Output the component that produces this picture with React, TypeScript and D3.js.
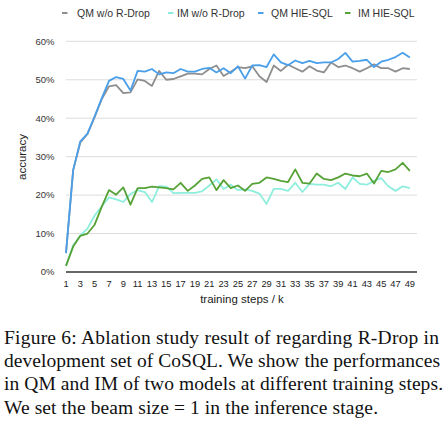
import React, { useEffect, useRef } from 'react';
import * as d3 from 'd3';

// training steps 1..49 (k)
const steps: number[] = d3.range(1, 50);
const xTickLabels: number[] = d3.range(1, 50, 2);
const yTicks: number[] = [0, 0.1, 0.2, 0.3, 0.4, 0.5, 0.6];

const seriesNames = ['QM w/o R-Drop', 'IM w/o R-Drop', 'QM HIE-SQL', 'IM HIE-SQL'];
const seriesColors = ['#8e8e8e', '#8eeedd', '#4a9fea', '#56a236'];

const qmWoRDrop = [
  4.9, 26.5, 33.7, 35.9, 40.3, 45.0, 48.3, 48.6, 46.5, 46.7,
  50.1, 49.7, 48.4, 52.3, 50.0, 50.2, 50.9, 51.6, 51.6, 51.4,
  52.8, 53.7, 51.0, 52.1, 53.3, 53.0, 53.5, 50.9, 49.4, 53.7,
  52.3, 53.9, 53.0, 52.1, 53.5, 52.4, 51.9, 54.5, 53.3, 53.7,
  53.0, 52.1, 53.0, 54.0, 53.0, 53.0, 52.1, 53.0, 52.8,
];
const imWoRDrop = [
  1.6, 6.9, 9.5, 11.3, 14.7, 17.1, 19.4, 18.9, 18.2, 20.3,
  21.3, 20.8, 18.2, 22.3, 22.2, 20.5, 20.6, 20.6, 20.6, 21.0,
  22.5, 24.1, 21.6, 22.7, 21.3, 21.5, 21.1, 20.4, 17.7, 21.6,
  21.6, 21.1, 23.2, 20.8, 22.9, 22.7, 22.7, 22.3, 23.2, 21.6,
  24.6, 22.9, 22.7, 23.7, 24.4, 22.3, 21.1, 22.3, 21.8,
];
const qmHieSql = [
  4.9, 26.5, 34.0, 36.0, 40.5, 45.2, 49.7, 50.7, 50.2, 47.2,
  52.3, 52.1, 52.8, 51.4, 51.9, 51.7, 52.8, 52.1, 52.1, 52.8,
  53.1, 51.9, 53.0, 51.7, 53.5, 50.3, 53.7, 53.8, 53.3, 56.6,
  54.5, 53.8, 55.0, 54.3, 54.9, 54.3, 54.5, 54.5, 55.4, 57.0,
  54.7, 54.9, 55.2, 53.3, 54.7, 55.2, 55.9, 57.0, 55.8,
];
const imHieSql = [
  1.6, 6.6, 9.4, 10.0, 12.3, 17.0, 21.3, 20.1, 22.0, 17.5,
  21.8, 21.8, 22.2, 22.0, 21.8, 21.5, 23.2, 21.1, 22.5, 24.2,
  24.6, 21.3, 23.9, 21.8, 22.5, 21.1, 22.9, 23.2, 24.6, 24.2,
  23.7, 23.4, 26.7, 23.2, 23.0, 25.6, 24.2, 23.9, 24.6, 25.6,
  25.1, 24.9, 25.6, 23.0, 26.3, 26.0, 26.7, 28.4, 26.3,
];
const seriesValues = [qmWoRDrop, imWoRDrop, qmHieSql, imHieSql];

const captionLines = [
  'Figure 6: Ablation study result of regarding R-Drop in',
  'development set of CoSQL. We show the performances',
  'in QM and IM of two models at different training steps.',
  'We set the beam size = 1 in the inference stage.',
];

const W = 448;
const H = 429;
const sans = '"Liberation Sans", Arial, Helvetica, sans-serif';
const serif = '"Liberation Serif", "Times New Roman", serif';

const App: React.FC = () => {
  const svgRef = useRef<SVGSVGElement>(null);

  useEffect(() => {
    if (svgRef.current == null) return;
    const svg = d3.select(svgRef.current);
    svg.selectAll('*').remove();

    const x = d3.scaleLinear().domain([1, 50]).range([66, 417]);
    const y = d3.scaleLinear().domain([0, 0.6]).range([272, 41.3]);

    // gridlines
    svg.append('g')
      .selectAll('line')
      .data(yTicks.filter(t => t > 0))
      .join('line')
      .attr('x1', x(1))
      .attr('x2', x(50))
      .attr('y1', d => y(d))
      .attr('y2', d => y(d))
      .attr('stroke', '#dcdcdc')
      .attr('stroke-width', 1);

    // y tick labels
    svg.append('g')
      .selectAll('text')
      .data(yTicks)
      .join('text')
      .attr('x', 54.5)
      .attr('y', d => y(d))
      .attr('dy', '0.35em')
      .attr('text-anchor', 'end')
      .style('font-family', sans)
      .style('font-size', '9.5px')
      .style('fill', '#333')
      .text(d => d3.format('.0%')(d));

    // x tick labels
    svg.append('g')
      .selectAll('text')
      .data(xTickLabels)
      .join('text')
      .attr('x', d => x(d))
      .attr('y', 287)
      .attr('text-anchor', 'middle')
      .style('font-family', sans)
      .style('font-size', '9.3px')
      .style('fill', '#222')
      .text(d => String(d));

    // axis titles
    svg.append('text')
      .attr('x', 242)
      .attr('y', 303)
      .attr('text-anchor', 'middle')
      .style('font-family', sans)
      .style('font-size', '11.5px')
      .style('fill', '#222')
      .text('training steps / k');

    svg.append('text')
      .attr('transform', 'translate(26,157) rotate(-90)')
      .attr('text-anchor', 'middle')
      .style('font-family', sans)
      .style('font-size', '11.5px')
      .style('fill', '#222')
      .text('accuracy');

    // lines
    const line = d3.line<number>()
      .x((_, i) => x(steps[i]))
      .y(d => y(d / 100));

    seriesValues.forEach((vals, i) => {
      svg.append('path')
        .datum(vals)
        .attr('d', line)
        .attr('fill', 'none')
        .attr('stroke', seriesColors[i])
        .attr('stroke-width', 1.8)
        .attr('stroke-linejoin', 'round');
    });

    // baseline axis
    svg.append('line')
      .attr('x1', x(1))
      .attr('x2', x(50))
      .attr('y1', y(0))
      .attr('y2', y(0))
      .attr('stroke', '#333')
      .attr('stroke-width', 1.3);

    // legend
    const legendDash = [62, 168, 258, 345];
    const legendText = [77, 177, 271, 358];
    seriesNames.forEach((name, i) => {
      svg.append('line')
        .attr('x1', legendDash[i])
        .attr('x2', legendDash[i] + 5.5)
        .attr('y1', 13)
        .attr('y2', 13)
        .attr('stroke', seriesColors[i])
        .attr('stroke-width', 2);
      svg.append('text')
        .attr('x', legendText[i])
        .attr('y', 13)
        .attr('dy', '0.35em')
        .style('font-family', sans)
        .style('font-size', '10.5px')
        .style('fill', '#333')
        .text(name);
    });

    // caption
    const captionWidths = [435, 436, 439, 374];
    captionLines.forEach((txt, i) => {
      svg.append('text')
        .attr('x', 4)
        .attr('y', 344 + i * 23.2)
        .attr('textLength', captionWidths[i])
        .attr('lengthAdjust', 'spacing')
        .style('font-family', serif)
        .style('font-size', '19.5px')
        .style('fill', '#111')
        .text(txt);
    });
  }, []);

  return (
    <svg
      ref={svgRef}
      width={W}
      height={H}
      style={{ position: 'absolute', left: 0, top: 0, background: '#fff' }}
    />
  );
};

export default App;
